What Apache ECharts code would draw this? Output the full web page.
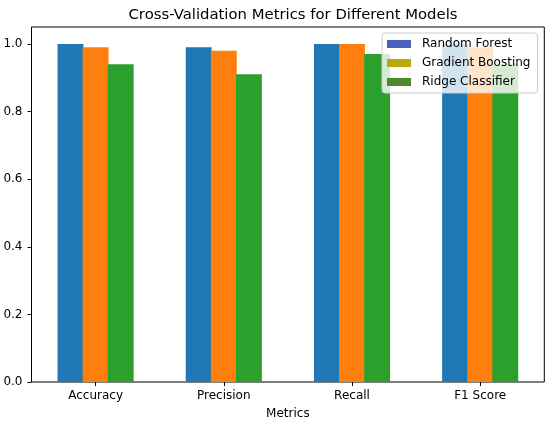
<!DOCTYPE html>
<html>
<head>
<meta charset="utf-8">
<script src="https://cdn.jsdelivr.net/npm/echarts@6/dist/echarts.min.js"></script>
<style>
html,body{margin:0;padding:0;background:#fff;}
#chart{width:550px;height:428px;}
</style>
</head>
<body>
<div id="chart"></div>
<script>
var categories = ['Accuracy', 'Precision', 'Recall', 'F1 Score'];
var randomForest = [1.00, 0.99, 1.00, 1.00];
var gradientBoosting = [0.99, 0.98, 1.00, 0.99];
var ridgeClassifier = [0.94, 0.91, 0.97, 0.94];
var yTicks = [0, 0.2, 0.4, 0.6, 0.8, 1.0];

var font = 'DejaVu Sans';
var chart = echarts.init(document.getElementById('chart'), null, {renderer: 'canvas'});
chart.setOption({
  animation: false,
  backgroundColor: '#fff',
  textStyle: {fontFamily: font},
  title: {
    text: 'Cross-Validation Metrics for Different Models',
    left: 288, top: 3, textAlign: 'center',
    textStyle: {fontFamily: font, fontSize: 14.85, fontWeight: 'normal', color: '#000'}
  },
  legend: {
    orient: 'vertical',
    left: 382, top: 33,
    padding: [4, 7, 4, 5],
    itemWidth: 24, itemHeight: 8, itemGap: 5,
    icon: 'rect',
    backgroundColor: 'rgba(255,255,255,0.8)',
    borderColor: '#cccccc', borderWidth: 1, borderRadius: 3,
    textStyle: {fontFamily: font, fontSize: 12, color: '#000', lineHeight: 14, padding: [0, 0, 0, 6]},
    data: [
      {name: 'Random Forest', itemStyle: {color: '#4a5fbe'}},
      {name: 'Gradient Boosting', itemStyle: {color: '#b8a90c'}},
      {name: 'Ridge Classifier', itemStyle: {color: '#4e8a2d'}}
    ]
  },
  grid: {
    left: 31.5, right: 5.7, top: 27, bottom: 46,
    show: true, borderColor: '#000', borderWidth: 1, containLabel: false
  },
  xAxis: {
    type: 'category',
    data: categories,
    name: 'Metrics',
    nameLocation: 'middle',
    nameGap: 26,
    nameTextStyle: {fontFamily: font, fontSize: 12, color: '#000'},
    axisLine: {show: false},
    axisTick: {show: true, alignWithLabel: true, length: 4, lineStyle: {color: '#000'}},
    axisLabel: {fontFamily: font, fontSize: 12, color: '#000', margin: 8},
    splitLine: {show: false}
  },
  yAxis: {
    type: 'value',
    min: 0, max: 1.05,
    axisLine: {show: false},
    axisTick: {show: true, length: 4, lineStyle: {color: '#000'}, customValues: yTicks},
    axisLabel: {fontFamily: font, fontSize: 12, color: '#000', margin: 9,
      customValues: yTicks,
      formatter: function (v) { return v.toFixed(1); }},
    splitLine: {show: false}
  },
  series: [
    {name: 'Random Forest', type: 'bar', data: randomForest, barWidth: '20.2%', barGap: '-3%',
      itemStyle: {color: '#1f77b4'}},
    {name: 'Gradient Boosting', type: 'bar', data: gradientBoosting, barWidth: '20.2%', barGap: '-3%',
      itemStyle: {color: '#ff7f0e'}},
    {name: 'Ridge Classifier', type: 'bar', data: ridgeClassifier, barWidth: '20.2%', barGap: '-3%',
      itemStyle: {color: '#2ca02c'}}
  ]
});
</script>
</body>
</html>
